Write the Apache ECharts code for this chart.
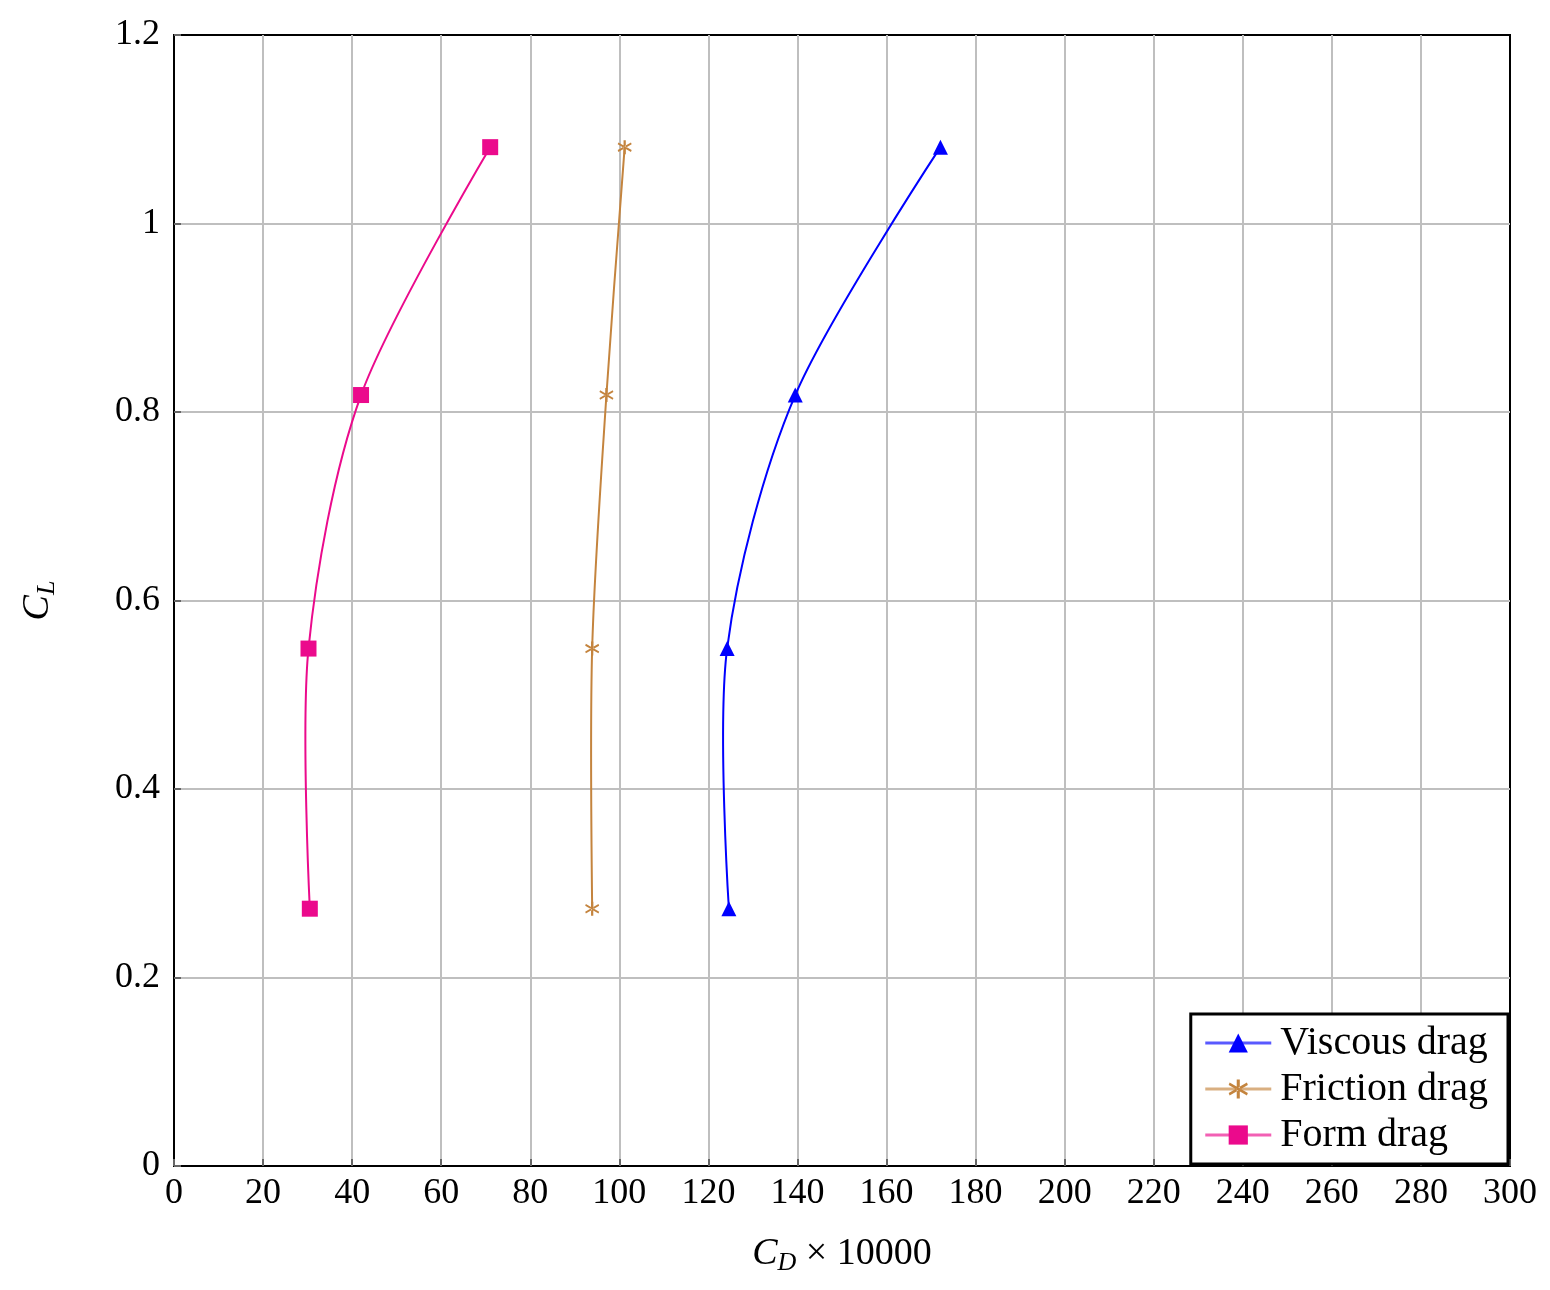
<!DOCTYPE html>
<html>
<head>
<meta charset="utf-8">
<script src="https://cdn.jsdelivr.net/npm/echarts@6/dist/echarts.min.js"></script>
<style>html,body{margin:0;padding:0;background:#fff;}#c{width:1550px;height:1290px;}</style>
</head>
<body>
<div id="c"></div>
<script>
var seriesNames = ['Viscous drag', 'Friction drag', 'Form drag'];
var liftCoef = [0.273, 0.549, 0.818, 1.081];
var viscousCD = [124.6, 124.2, 139.5, 172.1];
var frictionCD = [93.9, 93.9, 97.1, 101.2];
var formCD = [30.5, 30.2, 42.0, 71.0];
var xTicks = [0, 20, 40, 60, 80, 100, 120, 140, 160, 180, 200, 220, 240, 260, 280, 300];
var yTicks = [0, 0.2, 0.4, 0.6, 0.8, 1, 1.2];

var FONT = 'Liberation Serif';
var colors = ['#0000ff', '#c4843e', '#eb0a8c'];
var asterisk = 'path://M4.2,0 L5.8,0 L5.8,10 L4.2,10 Z M0.5,1.6 L10,7.1 L9.5,8.4 L0,2.9 Z M0.5,8.4 L10,2.9 L9.5,1.6 L0,7.1 Z';

function pairs(xs) { return xs.map(function (x, i) { return [x, liftCoef[i]]; }); }
var datas = [pairs(viscousCD), pairs(frictionCD), pairs(formCD)];
var symbols = ['triangle', asterisk, 'rect'];
var symbolSizes = [15, 14, 16];
var TENSION = 0.15; // TikZ "smooth" default

function curveSeries(idx) {
  var pts = datas[idx];
  return {
    name: seriesNames[idx] + ' curve', type: 'custom', data: pts, z: 4,
    silent: true, animation: false, clip: true,
    renderItem: function (params, api) {
      var i = params.dataIndex, n = pts.length;
      if (i >= n - 1) return null;
      var P = pts.map(function (p) { return api.coord(p); });
      var p0 = P[i], p1 = P[i + 1];
      var c1 = i === 0 ? p0 : [p0[0] + TENSION * (P[i + 1][0] - P[i - 1][0]), p0[1] + TENSION * (P[i + 1][1] - P[i - 1][1])];
      var c2 = i + 1 === n - 1 ? p1 : [p1[0] - TENSION * (P[i + 2][0] - P[i][0]), p1[1] - TENSION * (P[i + 2][1] - P[i][1])];
      return {
        type: 'bezierCurve',
        shape: { x1: p0[0], y1: p0[1], x2: p1[0], y2: p1[1], cpx1: c1[0], cpy1: c1[1], cpx2: c2[0], cpy2: c2[1] },
        style: { stroke: colors[idx], lineWidth: 2, fill: null }
      };
    }
  };
}

var series = [];
seriesNames.forEach(function (n, i) { series.push(curveSeries(i)); });
seriesNames.forEach(function (n, i) {
  series.push({
    name: n, type: 'line', data: datas[i],
    symbol: symbols[i], symbolSize: symbolSizes[i], showAllSymbol: true,
    lineStyle: { color: colors[i], width: 0, opacity: 0 },
    itemStyle: { color: colors[i], borderWidth: 0 },
    emphasis: { disabled: true }, animation: false, z: 5
  });
});

var chart = echarts.init(document.getElementById('c'), null, { renderer: 'canvas' });
chart.setOption({
  backgroundColor: '#fff',
  animation: false,
  grid: { left: 174, right: 40, top: 35, bottom: 124, containLabel: false, show: true, borderColor: '#000', borderWidth: 2, backgroundColor: 'transparent' },
  xAxis: {
    type: 'value', min: xTicks[0], max: xTicks[xTicks.length - 1], interval: 20,
    name: '{i|C}{s|D}{n| × 10000}', nameLocation: 'middle', nameGap: 66,
    nameTextStyle: { rich: {
      i: { fontFamily: FONT, fontStyle: 'italic', fontSize: 38, color: '#000' },
      s: { fontFamily: FONT, fontStyle: 'italic', fontSize: 26, color: '#000', padding: [18, 0, 0, 0] },
      n: { fontFamily: FONT, fontSize: 38, color: '#000' } } },
    axisLine: { show: true, lineStyle: { color: '#000', width: 2 } },
    axisTick: { show: true, inside: true, length: 7, lineStyle: { color: '#666', width: 2 } },
    axisLabel: { fontFamily: FONT, fontSize: 36, color: '#000', margin: 10 },
    splitLine: { show: true, showMinLine: false, showMaxLine: false, lineStyle: { color: '#bfbfbf', width: 2 } }
  },
  yAxis: {
    type: 'value', min: 0, max: 1.2, interval: 0.2,
    name: '{i|C}{s|L}', nameLocation: 'middle', nameGap: 114, nameRotate: 90,
    nameTextStyle: { rich: {
      i: { fontFamily: FONT, fontStyle: 'italic', fontSize: 38, color: '#000' },
      s: { fontFamily: FONT, fontStyle: 'italic', fontSize: 26, color: '#000', padding: [18, 0, 0, 0] } } },
    axisLine: { show: true, lineStyle: { color: '#000', width: 2 } },
    axisTick: { show: true, inside: true, length: 7, lineStyle: { color: '#666', width: 2 } },
    axisLabel: { fontFamily: FONT, fontSize: 36, color: '#000', margin: 14,
      formatter: function (v) { return String(Math.round(v * 10) / 10); } },
    splitLine: { show: true, showMinLine: false, showMaxLine: false, lineStyle: { color: '#bfbfbf', width: 2 } }
  },
  legend: {
    data: seriesNames.map(function (n, i) {
      return { name: n, lineStyle: { color: colors[i], width: 3, opacity: 0.65 }, itemStyle: { color: colors[i] } };
    }),
    orient: 'vertical', right: 42, bottom: 126,
    backgroundColor: '#fff', borderColor: '#000', borderWidth: 3, borderRadius: 0,
    padding: [9, 20, 9, 13], itemGap: 6, itemWidth: 66, itemHeight: 24,
    textStyle: { fontFamily: FONT, fontSize: 40, color: '#000', padding: [0, 0, 0, 4] },
    selectedMode: false
  },
  series: series
});
</script>
</body>
</html>
